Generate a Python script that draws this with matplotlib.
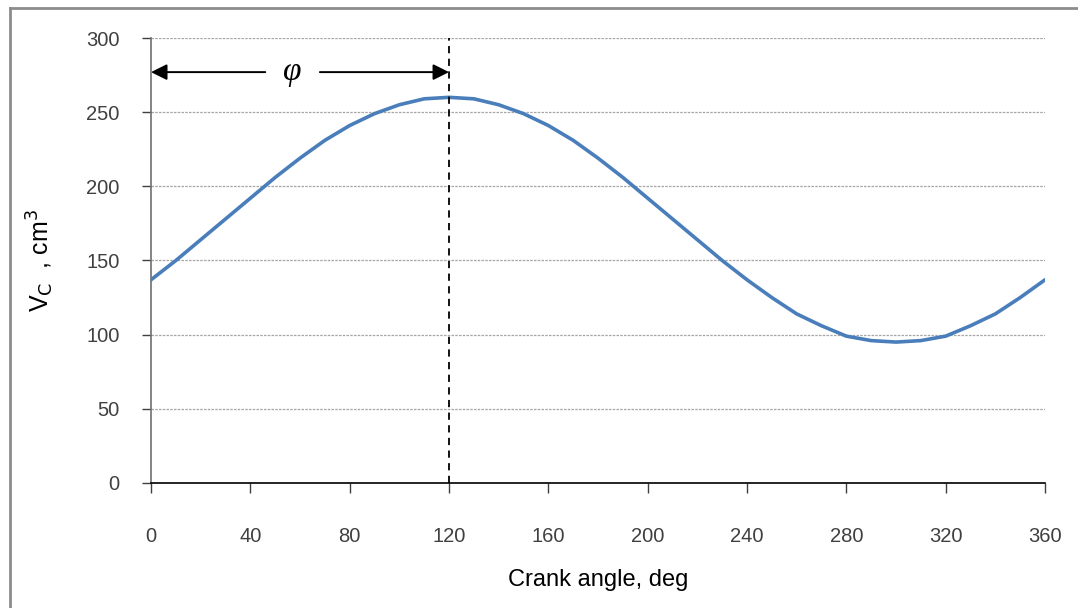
import matplotlib
matplotlib.use("Agg")
import matplotlib.pyplot as plt
from matplotlib.lines import Line2D

# crank angle (deg) and cylinder volume Vc (cm^3)
angle = [0, 10, 20, 30, 40, 50, 60, 70, 80, 90, 100, 110, 120,
         130, 140, 150, 160, 170, 180, 190, 200, 210, 220, 230, 240,
         250, 260, 270, 280, 290, 300, 310, 320, 330, 340, 350, 360]
vc = [137, 150, 164, 178, 192, 206, 219, 231, 241, 249, 255, 259, 260,
      259, 255, 249, 241, 231, 219, 206, 192, 178, 164, 150, 137,
      125, 114, 106, 99, 96, 95, 96, 99, 106, 114, 125, 137]

x_ticks = [0, 40, 80, 120, 160, 200, 240, 280, 320, 360]
y_ticks = [0, 50, 100, 150, 200, 250, 300]
phase_angle = 120
arrow_level = 277

plt.rcParams["font.family"] = ["Liberation Sans", "DejaVu Sans"]

fig = plt.figure(figsize=(10.78, 6.08), dpi=100)
ax = fig.add_axes([0.1401, 0.2056, 0.8293, 0.7319])

# frame around the picture (only top and left edges are visible)
fig.add_artist(Line2D([0.0093, 0.0093], [0.0, 0.9868], transform=fig.transFigure,
                      color="#8c8c8c", lw=2))
fig.add_artist(Line2D([0.0093, 1.0], [0.9868, 0.9868], transform=fig.transFigure,
                      color="#8c8c8c", lw=2))

ax.plot(angle, vc, color="#4a7ebb", lw=2.6, solid_capstyle="round",
        solid_joinstyle="round", zorder=3)

ax.axvline(phase_angle, color="black", lw=1.3, linestyle=(0, (4, 3)), zorder=4)

# phase arrows with phi in between
ax.annotate("", xy=(0, arrow_level), xytext=(46, arrow_level),
            arrowprops=dict(arrowstyle="-|>", color="black", lw=1.4,
                            mutation_scale=24, shrinkA=0, shrinkB=0))
ax.annotate("", xy=(phase_angle, arrow_level), xytext=(68, arrow_level),
            arrowprops=dict(arrowstyle="-|>", color="black", lw=1.4,
                            mutation_scale=24, shrinkA=0, shrinkB=0))
ax.text(57, arrow_level, "\u03c6", fontsize=24, style="italic",
        family=["Liberation Serif", "DejaVu Serif"], ha="center", va="center")

ax.set_xlim(0, 360)
ax.set_ylim(0, 300)
ax.set_xticks(x_ticks)
ax.set_yticks(y_ticks)

ax.yaxis.grid(True, color="#a6a6a6", lw=0.9, linestyle=(0, (2, 1)))
ax.set_axisbelow(True)

for side in ["top", "right"]:
    ax.spines[side].set_visible(False)
ax.spines["left"].set_color("#707070")
ax.spines["left"].set_linewidth(1.2)
ax.spines["bottom"].set_color("black")
ax.spines["bottom"].set_linewidth(1.2)

ax.tick_params(axis="y", direction="out", length=6.5, width=1, color="#404040",
               pad=16, labelsize=14.5, labelcolor="#404040")
ax.tick_params(axis="x", direction="out", length=7, width=1, color="#404040",
               pad=25, labelsize=14.5, labelcolor="#404040")

ax.set_xlabel("Crank angle, deg", fontsize=17, labelpad=16)
ax.set_ylabel(r"V$_\mathrm{C}$  , cm$^3$", fontsize=18, labelpad=22)

fig.savefig("out.png", dpi=100)
